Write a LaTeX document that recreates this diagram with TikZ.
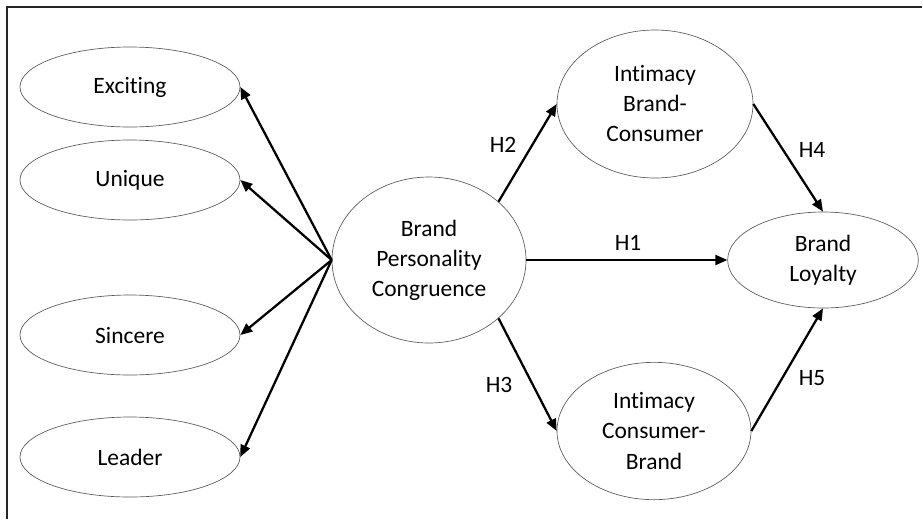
\documentclass[tikz,border=0pt]{standalone}
\usepackage{fontspec}
\setmainfont{Carlito}[Ligatures=NoCommon]
\usetikzlibrary{shapes.geometric,arrows.meta,positioning}

\begin{document}
\begin{tikzpicture}[x=0.75pt, y=-0.75pt, font=\fontsize{17.6}{22.5}\selectfont,
    construct/.style={ellipse, draw=gray!70!black, line width=0.5pt, inner sep=0pt, align=center},
    trait/.style={construct, minimum width=165pt, minimum height=60pt},
    link/.style={-{Triangle[length=9pt,width=7.5pt]}, line width=1.7pt},
    hlabel/.style={inner sep=0pt}]
    \useasboundingbox (0,0) rectangle (923,519);

    % Frame (top and left edge only)
    \draw[line width=1.6pt, black!85] (922,7) -- (7,7) -- (7,519);

    % Central construct
    \node[construct, minimum width=145.5pt, minimum height=124.5pt] (bpc) at (429,260) {Brand\\Personality\\Congruence};

    % Personality traits
    \foreach \n/\y/\t in {exciting/87/Exciting, unique/180/Unique, sincere/335/Sincere, leader/457/Leader} {
        \node[trait] (\n) at (130,\y) {\t};
        \draw[link] (bpc.west) -- (\n.east);
    }

    % Intimacy and loyalty
    \node[construct, minimum width=147pt, minimum height=111pt] (ibc) at (655,104) {Intimacy\\Brand-\\Consumer};
    \node[construct, minimum width=145.5pt, minimum height=103pt] (icb) at (654,431) {Intimacy\\Consumer-\\Brand};
    \node[construct, minimum width=143pt, minimum height=72pt] (loyalty) at (823,260) {Brand\\Loyalty};

    % Hypotheses
    \draw[link] (bpc.east) -- (loyalty.west);
    \draw[link] (bpc.40) -- (ibc.west);
    \draw[link] (bpc.-40) -- (icb.west);
    \draw[link] (ibc.east) -- (loyalty.north);
    \draw[link] (icb.east) -- (loyalty.south);

    \node[hlabel] (h1) at (628,243) {H1};
    \node[hlabel] (h2) at (503,145) {H2};
    \node[hlabel] (h3) at (499,385) {H3};
    \node[hlabel] (h4) at (812,150) {H4};
    \node[hlabel] (h5) at (812,378) {H5};

\end{tikzpicture}
\end{document}
